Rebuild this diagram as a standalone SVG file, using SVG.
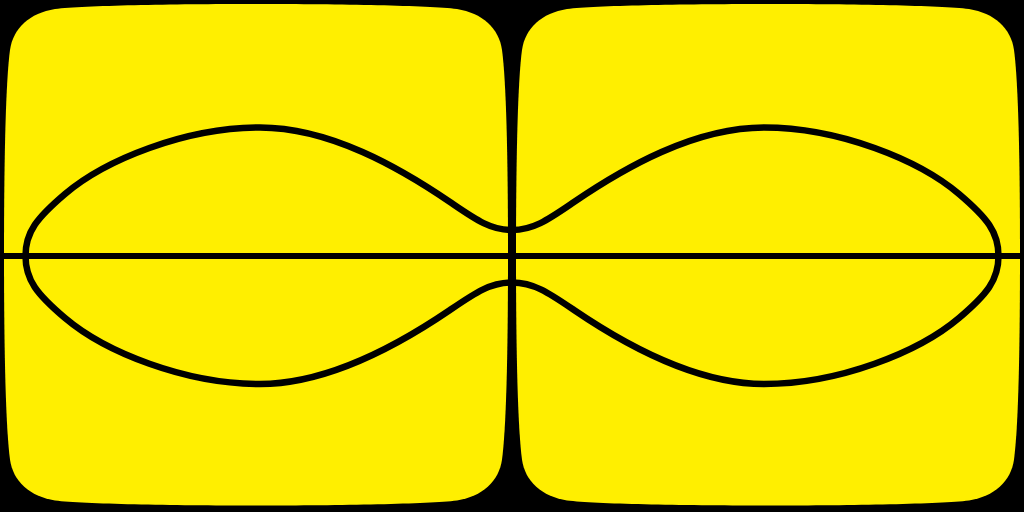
<svg xmlns="http://www.w3.org/2000/svg" width="1024" height="512" viewBox="0 0 1024 512">
  <style>
    .panel { fill: #FFEF00; stroke: none; }
    .ink { fill: none; stroke: #000000; stroke-width: 6; stroke-linejoin: round; stroke-linecap: butt; }
    .curve { stroke-width: 6.5; }
  </style>
  <defs>
    <path id="squircle" d="M256,4 C342,4 427,5.5 457,9 C482,13 499,28 502,50 C506,80 508,150 508,255 C508,360 506,429.5 502,459.5 C499,481.5 482,496.5 457,500.5 C427,504 342,505.5 256,505.5 C170,505.5 85,504 55,500.5 C30,496.5 13,481.5 10,459.5 C6,429.5 4,360 4,255 C4,150 6,80 10,50 C13,28 30,13 55,9 C85,5.5 170,4 256,4 Z"/>
  </defs>
  <rect id="background" x="0" y="0" width="1024" height="512" fill="#000000"/>
  <g id="left-panel">
    <use href="#squircle" class="panel"/>
  </g>
  <g id="right-panel">
    <use href="#squircle" class="panel" transform="translate(512,0)"/>
  </g>
  <g id="lines">
    <line class="ink" x1="0" y1="256" x2="1024" y2="256"/>
    <line class="ink" x1="512" y1="0" x2="512" y2="512"/>
    <path class="ink curve" d="M512,230 C490,230 475,219 450,202 C400,168 330,127.5 260,127.5 C185,127.5 105,160 65,194 C37,217.8 25.5,232 25.5,256 C25.5,280 37,294.2 65,318 C105,352 185,384 260,384 C330,384 400,344 450,310 C475,293 490,282.5 512,282.5 C534,282.5 549,293 574,310 C624,344 694,384 764,384 C839,384 919,352 959,318 C987,294.2 998.5,280 998.5,256 C998.5,232 987,217.8 959,194 C919,160 839,127.5 764,127.5 C694,127.5 624,168 574,202 C549,219 534,230 512,230 Z"/>
  </g>
</svg>
